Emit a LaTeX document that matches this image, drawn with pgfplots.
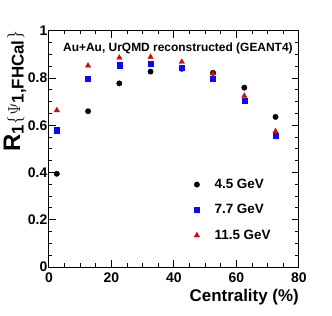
\documentclass[border=0pt]{standalone}
\usepackage{fontspec}
\setmainfont{Liberation Sans}
\usepackage{pgfplots}
\pgfplotsset{compat=1.18}
\definecolor{rootred}{RGB}{210,10,10}
\definecolor{rootblue}{RGB}{10,10,245}
\begin{document}
\begin{tikzpicture}
\useasboundingbox (0,0) rectangle (332bp,316bp);
\begin{axis}[
  at={(49bp,49bp)}, anchor=south west,
  scale only axis, width=250bp, height=236bp,
  xmin=0, xmax=80, ymin=0, ymax=1,
  xtick={0,20,40,60,80}, ytick={0,0.2,0.4,0.6,0.8,1},
  minor x tick num=3, minor y tick num=3,
  tick align=inside, major tick length=7bp, minor tick length=3.5bp,
  axis line style={line width=1bp},
  every tick/.style={line width=1bp, black},
  /pgf/number format/assume math mode=true,
  ticklabel style={font=\bfseries\fontsize{14}{14}\selectfont},
  yticklabel style={inner sep=0pt, xshift=-1.5bp},
  xticklabel style={inner sep=0pt, yshift=-6bp},
  xlabel={Centrality (\%)},
  xlabel style={at={(rel axis cs:1,-0.148)}, anchor=base east, inner sep=0pt,
    font=\bfseries\fontsize{17}{17}\selectfont},
  ylabel={\fontsize{24}{24}\selectfont\bfseries R\textsubscript{\fontsize{17}{17}\selectfont 1}{\mdseries\fontsize{19}{19}\selectfont$\{\Psi$}\textsubscript{\fontsize{17}{17}\selectfont 1,FHCal}{\mdseries\fontsize{19}{19}\selectfont$\}$}},
  ylabel style={at={(rel axis cs:-0.116,1)}, anchor=base east, inner sep=0pt},
  legend style={draw=none, fill=none, at={(rel axis cs:0.568,0.39)}, anchor=north west,
    row sep=10.5bp, column sep=13bp, font=\bfseries\fontsize{13.5}{13.5}\selectfont},
  legend cell align=left,
  legend image code/.code={\draw[#1] plot coordinates {(0bp,0bp)};},
]
\addplot[only marks, mark=*, mark size=2.7bp, black] coordinates {
(2.5,0.395) (12.5,0.66) (22.5,0.778) (32.5,0.828) (42.5,0.84) (52.5,0.823) (62.5,0.76) (72.5,0.636)};
\addlegendentry{4.5 GeV}
\addplot[only marks, mark=square*, mark size=2.6bp, rootblue] coordinates {
(2.5,0.58) (12.5,0.798) (22.5,0.855) (32.5,0.863) (42.5,0.845) (52.5,0.797) (62.5,0.705) (72.5,0.558)};
\addlegendentry{7.7 GeV}
\addplot[only marks, mark=triangle*, mark size=3.1bp, rootred] coordinates {
(2.5,0.664) (12.5,0.853) (22.5,0.887) (32.5,0.89) (42.5,0.869) (52.5,0.82) (62.5,0.725) (72.5,0.575)};
\addlegendentry{11.5 GeV}
\node[anchor=base west, inner sep=0pt, font=\bfseries\fontsize{12}{12}\selectfont]
  at (rel axis cs:0.056,0.915) {Au+Au, UrQMD reconstructed (GEANT4)};
\end{axis}
\end{tikzpicture}
\end{document}
